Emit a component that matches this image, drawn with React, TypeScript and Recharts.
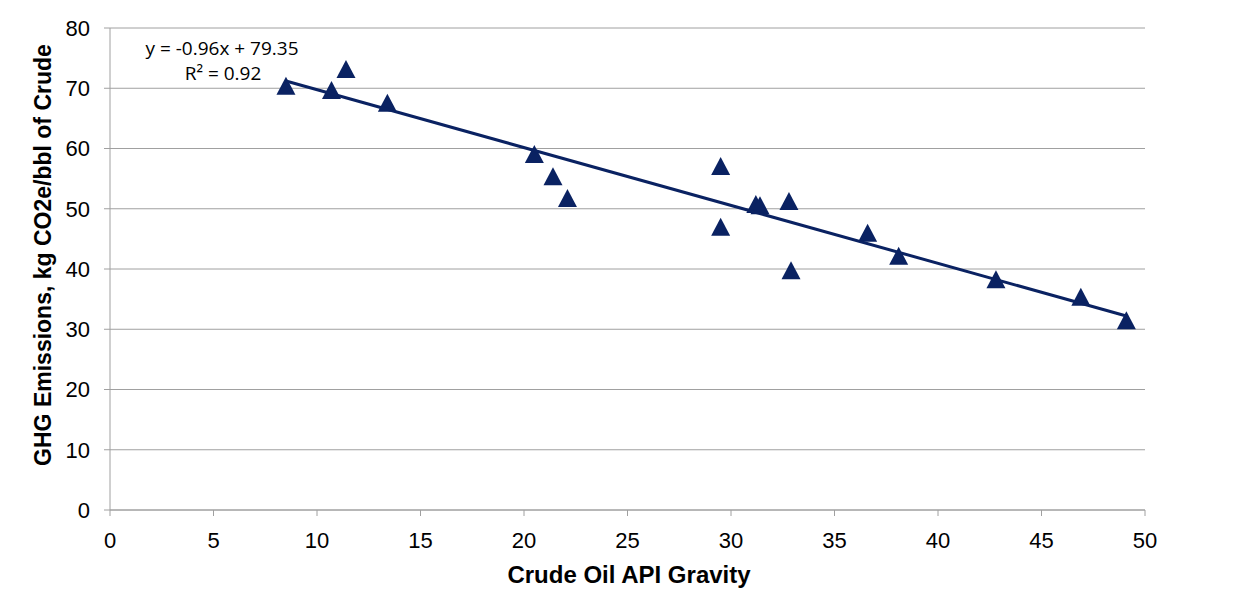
import React from 'react';
import { ScatterChart, Scatter, XAxis, YAxis, CartesianGrid, Label } from 'recharts';

// crude samples: API gravity vs GHG emissions
const apiGravity = [8.5, 10.7, 11.4, 13.4, 20.5, 21.4, 22.1, 29.5, 29.5, 31.2, 31.4, 32.8, 32.9, 36.6, 38.1, 42.8, 46.9, 49.1];
const ghgEmissions = [70.4, 69.7, 73.2, 67.6, 59.1, 55.4, 51.8, 57.1, 47.0, 50.8, 50.6, 51.3, 39.8, 46.0, 42.2, 38.3, 35.4, 31.5];

// linear trendline end points (y = -0.96x + 79.35)
const trendX = [8.5, 49.1];
const trendY = [71.2, 32.2];

const xTicks = [0, 5, 10, 15, 20, 25, 30, 35, 40, 45, 50];
const yTicks = [0, 10, 20, 30, 40, 50, 60, 70, 80];

const points = apiGravity.map((x, i) => ({ x, y: ghgEmissions[i] }));
const trend = trendX.map((x, i) => ({ x, y: trendY[i] }));

const NAVY = '#0a2262';
const GRID = '#a0a0a0';
const FONT = '"Liberation Sans", Arial, sans-serif';
const tickStyle = { fontFamily: FONT, fontSize: 22, fill: '#000' };

// excel-style triangle marker, centred on its box
const Triangle = (props: any) => {
  const { cx, cy } = props;
  if (cx == null || cy == null) return <g />;
  return (
    <polygon
      points={`${cx},${cy - 9} ${cx - 9.5},${cy + 9} ${cx + 9.5},${cy + 9}`}
      fill={NAVY}
    />
  );
};

const App = () => {
  return (
    <div
      style={{
        marginLeft: -1,
        marginTop: -1,
        width: 1250,
        height: 605,
        border: '1px solid #8c8c8c',
        background: '#fff',
      }}
    >
      <ScatterChart width={1242} height={597} margin={{ top: 20, right: 105, bottom: 0, left: 0 }}>
        <CartesianGrid vertical={false} stroke={GRID} strokeWidth={1} />
        <XAxis
          type="number"
          dataKey="x"
          domain={[0, 50]}
          ticks={xTicks}
          height={95}
          stroke={GRID}
          tickSize={6}
          tickMargin={16}
          tick={tickStyle}
          interval={0}
        >
          <Label
            content={() => (
              <text
                x={621}
                y={569}
                textAnchor="middle"
                dominantBaseline="middle"
                fontFamily={FONT}
                fontSize={24}
                fontWeight="bold"
                fill="#000"
              >
                Crude Oil API Gravity
              </text>
            )}
          />
        </XAxis>
        <YAxis
          type="number"
          dataKey="y"
          domain={[0, 80]}
          ticks={yTicks}
          width={102}
          stroke={GRID}
          tickSize={6}
          tickMargin={14}
          tick={tickStyle}
          interval={0}
        >
          <Label
            content={() => (
              <text
                x={37}
                y={247}
                textAnchor="middle"
                dominantBaseline="middle"
                transform="rotate(-90, 37, 247)"
                fontFamily={FONT}
                fontSize={23}
                fontWeight="bold"
                fill="#000"
              >
                GHG Emissions, kg CO2e/bbl of Crude
              </text>
            )}
          />
        </YAxis>
        <Scatter data={points} fill={NAVY} shape={Triangle} isAnimationActive={false} />
        <Scatter
          data={trend}
          line={{ stroke: NAVY, strokeWidth: 3 }}
          shape={() => <g />}
          isAnimationActive={false}
        />
        <text x={214} y={42} textAnchor="middle" dominantBaseline="middle" fill="#000" fontFamily='"Open Sans", sans-serif' fontSize={19}>
          y = -0.96x + 79.35
        </text>
        <text x={215} y={67} textAnchor="middle" dominantBaseline="middle" fill="#000" fontFamily='"Open Sans", sans-serif' fontSize={19}>
          R² = 0.92
        </text>
      </ScatterChart>
    </div>
  );
};

export default App;
